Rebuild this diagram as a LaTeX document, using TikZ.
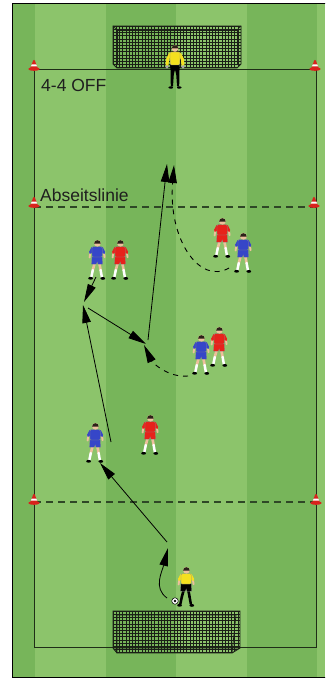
\documentclass[tikz,border=0pt]{standalone}
\usepackage{fontspec}
\setmainfont{Liberation Sans}
\usetikzlibrary{arrows.meta}

\definecolor{grassLight}{HTML}{8CC46B}
\definecolor{grassDark}{HTML}{77B55A}
\definecolor{lineDark}{HTML}{1F2E17}
\definecolor{dashGreen}{HTML}{2E4726}
\definecolor{skin}{HTML}{EDC09C}
\definecolor{hair}{HTML}{2B2118}
\definecolor{kitBlue}{HTML}{3646C8}
\definecolor{kitRed}{HTML}{E6221B}
\definecolor{kitYellow}{HTML}{F4E01E}
\definecolor{coneRed}{HTML}{D8231C}
\definecolor{netDark}{HTML}{1A1F16}

\tikzset{
  pitchline/.style={draw=lineDark, line width=0.9pt},
  zoneline/.style={draw=dashGreen, line width=1.2pt, dash pattern=on 7pt off 5pt},
  pass/.style={draw=black, line width=0.8pt, -{Triangle[length=18pt,width=8.5pt]}},
  run/.style={pass, line width=0.9pt, dash pattern=on 5pt off 5pt},
  caption/.style={font=\fontsize{17.5}{20}\selectfont, text=black!88, inner sep=0pt, anchor=base west},
  net/.style={draw=netDark, line width=0.5pt},
  goalframe/.style={draw=netDark, line width=0.9pt},
  limb/.style={line cap=round, line width=#1},
  % marker cone, origin at its middle
  pics/cone/.style={code={
    \fill[coneRed] (0,3) ellipse[x radius=5.8, y radius=1.8];
    \fill[coneRed] (-4,3) -- (-1,-5) -- (1,-5) -- (4,3) -- cycle;
    \fill[coneRed] (0,-5) circle[radius=1.1];
    \fill[white] (-3.06,0.5) -- (3.06,0.5) -- (2.31,-1.5) -- (-2.31,-1.5) -- cycle;
  }},
  % field player: shirt, shorts, thigh, sock colours
  pics/player/.style n args={4}{code={
    \draw[#3, limb=2.6pt] (-2.3,3) -- (-4.2,10);
    \draw[#3, limb=2.6pt] (2.3,3) -- (3.6,10);
    \draw[#4, limb=2.5pt] (-4.2,10) -- (-5.6,16.8);
    \draw[#4, limb=2.5pt] (3.6,10) -- (4.8,16.8);
    \fill[black] (-6.4,18.3) ellipse[x radius=2.4, y radius=1.4];
    \fill[black] (5.8,18.4) ellipse[x radius=2.4, y radius=1.4];
    \draw[skin, limb=1.9pt] (-6.6,-8) -- (-7.4,-2.5);
    \draw[skin, limb=1.9pt] (6.8,-8) -- (7.6,-2.8);
    \draw[#1, limb=3pt] (-4.2,-12) -- (-6.6,-7.5);
    \draw[#1, limb=3pt] (4.5,-12) -- (6.8,-7.5);
    \filldraw[fill=#2, draw=black!45, line width=0.25pt] (-5,-3.5) -- (5.2,-3.5) -- (5.7,4.2) -- (0.9,4.2) -- (0.2,2) -- (-0.7,4.2) -- (-5.6,4.2) -- cycle;
    \filldraw[fill=#1, draw=black!45, line width=0.25pt, rounded corners=1.2pt] (-4.9,-13.4) -- (5.1,-13.4) -- (5.4,-3) -- (-5,-3) -- cycle;
    \fill[skin] (0.4,-16.7) circle[radius=3.3];
    \fill[hair] (-2.9,-16.5) arc[start angle=180, end angle=360, radius=3.3] -- cycle;
  }},
  % goalkeeper standing with arms down
  pics/keeper/.style={code={
    \fill[black] (-4.6,-1) -- (4.6,-1) -- (4.4,10) -- (4.2,21) -- (2,21) -- (1.2,9) -- (0,4) -- (-1.2,9) -- (-2,21) -- (-4.2,21) -- (-4.4,10) -- cycle;
    \fill[black] (-4.2,22) ellipse[x radius=2.4, y radius=1.2];
    \fill[black] (4.2,22) ellipse[x radius=2.4, y radius=1.2];
    \draw[kitYellow, limb=3pt] (-4.5,-12) -- (-7.5,-6) -- (-8,-0.5);
    \draw[kitYellow, limb=3pt] (4.5,-12) -- (7.5,-6) -- (8,-0.5);
    \fill[gray!70] (-8,1.3) circle[radius=1.8];
    \fill[gray!70] (8,1.3) circle[radius=1.8];
    \filldraw[fill=kitYellow, draw=black!45, line width=0.25pt, rounded corners=1.2pt] (-5,-13.5) -- (5,-13.5) -- (4.8,-0.5) -- (-4.8,-0.5) -- cycle;
    \fill[skin] (0,-17) circle[radius=3.3];
    \fill[hair] (-3.3,-17) arc[start angle=180, end angle=360, radius=3.3] -- cycle;
  }},
}

\begin{document}
\begin{tikzpicture}[x=1pt, y=-1pt]
  \useasboundingbox (0,0) rectangle (325,679);
  \clip (0,0) rectangle (325,679);

  % grass stripes
  \fill[white] (0,0) rectangle (325,679);
  \fill[grassDark] (12,3) rectangle (325,678);
  \fill[grassLight] (35,3) rectangle (106,678);
  \fill[grassLight] (176,3) rectangle (247,678);
  \fill[grassLight] (317,3) rectangle (325,678);
  \draw[black, line width=1.3pt] (326,3.5) -- (12.5,3.5) -- (12.5,677.8) -- (326,677.8);

  % pitch markings
  \draw[pitchline] (34,69) rectangle (316,647);
  \draw[zoneline] (34,207) -- (316,207);
  \draw[zoneline] (34,502) -- (316,502);

  % top goal
  \begin{scope}
    \clip (113,26) -- (241,26) -- (241,64) -- (237,68) -- (117,68) -- (113,64) -- cycle;
    \foreach \gx in {113,116.2,...,242} \draw[net] (\gx,26) -- (\gx,68);
    \foreach \gy in {26,29.2,...,69} \draw[net] (113,\gy) -- (241,\gy);
  \end{scope}
  \draw[goalframe] (113,26) -- (241,26) -- (241,64) -- (237,68) -- (117,68) -- (113,64) -- cycle;
  \draw[net, line width=0.7pt] (117,30) rectangle (237,64);
  \draw[net, line width=0.7pt] (113,26) -- (117,30) (241,26) -- (237,30);

  % bottom goal
  \begin{scope}
    \clip (113,611) -- (240,611) -- (240,648) -- (232,653) -- (117,653) -- (113,648) -- cycle;
    \foreach \gx in {113,116.2,...,241} \draw[net] (\gx,611) -- (\gx,653);
    \foreach \gy in {611,614.2,...,654} \draw[net] (113,\gy) -- (240,\gy);
  \end{scope}
  \draw[goalframe] (113,611) -- (240,611) -- (240,648) -- (232,653) -- (117,653) -- (113,648) -- cycle;
  \draw[net, line width=0.7pt] (117,615) -- (236,615) (117,615) -- (117,653) (236,615) -- (232,653) (113,648) -- (240,648);

  % cones
  \pic at (34,66) {cone};
  \pic at (315,66) {cone};
  \pic at (34,203) {cone};
  \pic at (314,203) {cone};
  \pic at (34,500) {cone};
  \pic at (316,500) {cone};

  % labels
  \node[caption] (title) at (41,92) {4-4 OFF};
  \node[caption] (offside) at (40,201) {Abseitslinie};

  % players
  \pic (keeperTop) at (175,65.5) {keeper};
  \pic (blueA) at (97,260) {player={kitBlue}{kitBlue}{skin}{white}};
  \pic (redA) at (120,260) {player={kitRed}{kitRed}{skin}{white}};
  \pic (redB) at (222,238) {player={kitRed}{kitRed}{skin}{white}};
  \pic (blueB) at (243,253) {player={kitBlue}{kitBlue}{skin}{white}};
  \pic (blueC) at (201,355) {player={kitBlue}{kitBlue}{skin}{white}};
  \pic (redC) at (219,347) {player={kitRed}{kitRed}{skin}{white}};
  \pic (blueD) at (95,443) {player={kitBlue}{kitBlue}{skin}{white}};
  \pic (redD) at (150,435) {player={kitRed}{kitRed}{skin}{white}};
  \pic (striker) at (186,587) {player={kitYellow}{black}{black}{black}};

  % ball
  \node[circle, fill=white, draw=black, line width=0.5pt, minimum size=6.5pt, inner sep=0pt] (ball) at (175,601) {};
  \fill[black] (ball.center) circle[radius=1.3];

  % arrow end points
  \coordinate (dribbleStart) at (167,598);
  \coordinate (dribbleEnd) at (168,548);
  \coordinate (passOneStart) at (167,542);
  \coordinate (passOneEnd) at (100,463);
  \coordinate (runUpStart) at (111,442);
  \coordinate (runUpEnd) at (83,305);
  \coordinate (dropStart) at (96,277);
  \coordinate (dropEnd) at (84,302);
  \coordinate (diagStart) at (88,308);
  \coordinate (diagEnd) at (146,344);
  \coordinate (deepStart) at (148,340);
  \coordinate (deepEnd) at (167,164);
  \coordinate (curlStart) at (229,268);
  \coordinate (curlEnd) at (174,165);
  \coordinate (hookStart) at (188,376);
  \coordinate (hookEnd) at (144,345);

  % movements
  \draw[pass] (dribbleStart) .. controls (153,588) and (162,572) .. (dribbleEnd);
  \draw[pass] (passOneStart) -- (passOneEnd);
  \draw[pass] (runUpStart) -- (runUpEnd);
  \draw[pass] (dropStart) -- (dropEnd);
  \draw[pass] (diagStart) -- (diagEnd);
  \draw[pass] (deepStart) -- (deepEnd);
  \draw[run] (curlStart) .. controls (200,285) and (168,240) .. (curlEnd);
  \draw[run] (hookStart) .. controls (168,378) and (152,362) .. (hookEnd);
\end{tikzpicture}
\end{document}
